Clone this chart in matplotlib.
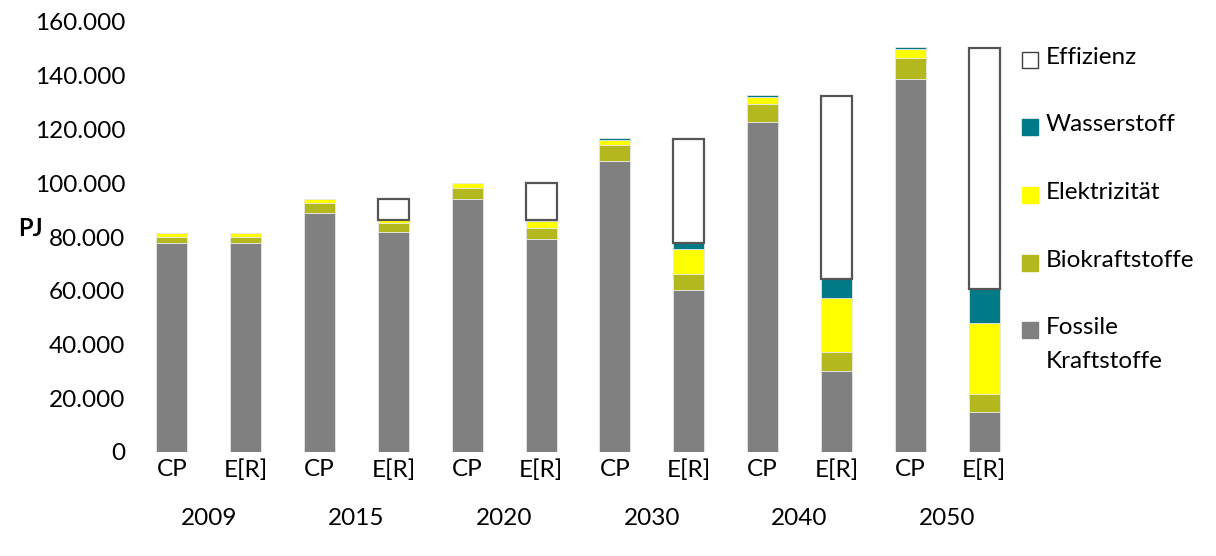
import matplotlib
matplotlib.use('Agg')
import matplotlib.pyplot as plt
import numpy as np
from matplotlib.patches import Rectangle

plt.rcParams['font.family'] = ['Lato', 'DejaVu Sans']

# data (PJ)
szenario = ['CP', 'E[R]'] * 6
jahre = ['2009', '2015', '2020', '2030', '2040', '2050']

fossil = [77900, 77900, 89000, 81700, 94100, 79100, 108300, 60300, 122700, 30300, 138900, 14900]
bio = [2200, 2200, 3800, 3400, 4300, 4400, 5800, 6100, 6900, 7000, 7800, 6600]
elektro = [1300, 1300, 1300, 1200, 1700, 2500, 2000, 9000, 2600, 20000, 3300, 26500]
wasserstoff = [0, 0, 0, 0, 0, 300, 800, 2400, 800, 7200, 700, 12500]
effizienz = [0, 0, 0, 7800, 0, 13800, 0, 38500, 0, 68000, 0, 89700]

namen = ['Fossile\nKraftstoffe', 'Biokraftstoffe', 'Elektrizität', 'Wasserstoff', 'Effizienz']
farben = ['#808080', '#B2B81E', '#FFFF00', '#007A87', '#FFFFFF']

fig = plt.figure(figsize=(12.16, 5.56), dpi=100)
ax = fig.add_axes([135/1216, 104/556, 886/1216, 430/556])

x = np.arange(len(szenario))
w = 0.42
bottom = np.zeros(len(x))
serien = [fossil, bio, elektro, wasserstoff, effizienz]
for i, s in enumerate(serien):
    s = np.array(s, dtype=float)
    if namen[i] == 'Effizienz':
        kanten = ['#555555' if v > 0 else 'none' for v in s]
        ax.bar(x, s, w, bottom=bottom, color='white', edgecolor=kanten, linewidth=1.6, zorder=3)
    else:
        kanten = ['#E6E6E6' if v > 0 else 'none' for v in s]
        ax.bar(x, s, w, bottom=bottom, color=farben[i], edgecolor=kanten, linewidth=0.6, zorder=2)
    bottom += s

ax.set_xlim(-0.5, 11.5)
ax.set_ylim(0, 160000)
ax.set_yticks(np.arange(0, 160001, 20000))
ax.set_yticklabels(['{:,.0f}'.format(v).replace(',', '.') for v in np.arange(0, 160001, 20000)])
ax.set_xticks(x)
ax.set_xticklabels(szenario)
ax.tick_params(axis='both', length=0, labelsize=17.5, colors='black')
ax.tick_params(axis='y', pad=7)
ax.tick_params(axis='x', pad=5)
for sp in ax.spines.values():
    sp.set_visible(False)

# years under the pairs
for k, j in enumerate(jahre):
    ax.text(2*k + 0.5, -0.155, j, transform=ax.get_xaxis_transform(),
            ha='center', va='center', fontsize=17.5)

fig.text(30/1216, 1 - 229/556, 'PJ', ha='center', va='center', fontsize=17, fontweight='bold')

# legend, drawn by hand to keep the marker on the first text line
leg_y = [330, 263, 195, 127, 60]
for i in range(len(namen)):
    yy = 1 - leg_y[i]/556
    fig.patches.append(Rectangle((1022/1216, yy - 8/556), 16/1216, 16/556,
                                 transform=fig.transFigure, facecolor=farben[i],
                                 edgecolor='#404040' if namen[i] == 'Effizienz' else farben[i],
                                 linewidth=1.0))
    fig.text(1046/1216, yy + 13/556, namen[i], ha='left', va='top', fontsize=17.5,
             linespacing=1.75)

fig.savefig('out.png', dpi=100)
